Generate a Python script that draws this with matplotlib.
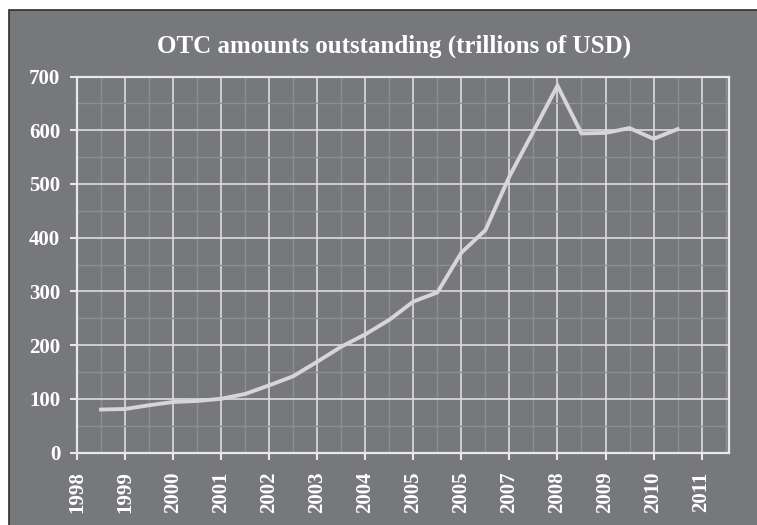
import matplotlib
matplotlib.use("Agg")
import matplotlib.pyplot as plt
from matplotlib.patches import Rectangle
from matplotlib.ticker import MultipleLocator, FixedLocator

# Semi-annual observation dates (in years) and notional amounts (trillions of USD)
dates = [1998.5, 1999.0, 1999.5, 2000.0, 2000.5, 2001.0, 2001.5, 2002.0, 2002.5,
         2003.0, 2003.5, 2004.0, 2004.5, 2005.0, 2005.5, 2006.0, 2006.5, 2007.0,
         2007.5, 2008.0, 2008.5, 2009.0, 2009.5, 2010.0, 2010.5]
amounts = [80, 81, 88, 94, 96, 100, 109, 125, 142, 169, 197, 220, 247, 281, 298,
           372, 414, 514, 598, 683, 594, 595, 604, 584, 602]

tick_years = list(range(1998, 2012))
tick_labels = ["1998", "1999", "2000", "2001", "2002", "2003", "2004", "2005",
               "2005", "2007", "2008", "2009", "2010", "2011"]

title = "OTC amounts outstanding (trillions of USD)"

BG = "#77787c"
FG = "#ffffff"
MAJOR = "#dcdcdc"
MINOR = "#8e8f93"
LINE = "#d6d6d6"

W, H = 757, 525
fig = plt.figure(figsize=(W / 100, H / 100), dpi=100, facecolor="white")

# Gray panel with a dark frame on its visible edges
fig.patches.append(Rectangle((9 / W, -0.1), 1.2, 1.1 - 10 / H,
                             transform=fig.transFigure, facecolor=BG,
                             edgecolor="#2e2e2e", linewidth=1.2, zorder=-5))

ax = fig.add_axes([77 / W, (H - 452.5) / H, (729 - 77) / W, (452.5 - 76.5) / H])
ax.set_facecolor(BG)
ax.set_zorder(2)

serif = ["Liberation Serif", "DejaVu Serif"]

ax.plot(dates, amounts, color=LINE, linewidth=2.8, solid_joinstyle="miter", zorder=3)

ax.set_xlim(1998, 2011.57)
ax.set_ylim(0, 700)

ax.xaxis.set_major_locator(FixedLocator(tick_years))
ax.set_xticklabels(tick_labels)
ax.xaxis.set_minor_locator(MultipleLocator(0.5))
ax.yaxis.set_major_locator(MultipleLocator(100))
ax.yaxis.set_minor_locator(MultipleLocator(50))

ax.grid(which="minor", color=MINOR, linewidth=1.0, zorder=1)
ax.grid(which="major", color=MAJOR, linewidth=1.2, zorder=2)
ax.set_axisbelow(True)

for s in ax.spines.values():
    s.set_color("#e8e8e8")
    s.set_linewidth(1.6)

ax.tick_params(which="minor", length=0)
ax.tick_params(axis="y", which="major", length=5, width=1.5, color="#e8e8e8",
               pad=7, labelcolor=FG)
ax.tick_params(axis="x", which="major", length=5, width=1.5, color="#e8e8e8",
               pad=8.5, labelcolor=FG)

for lab in ax.get_yticklabels():
    lab.set_fontfamily(serif)
    lab.set_fontweight("bold")
    lab.set_fontsize(15)
for lab in ax.get_xticklabels():
    lab.set_fontfamily(serif)
    lab.set_fontweight("bold")
    lab.set_fontsize(15)
    lab.set_rotation(90)

fig.text(394 / W, 1 - 46 / H, title, ha="center", va="center", color=FG,
         fontsize=18, fontweight="bold", family=serif)

fig.savefig("out.png", dpi=100, facecolor=fig.get_facecolor())
